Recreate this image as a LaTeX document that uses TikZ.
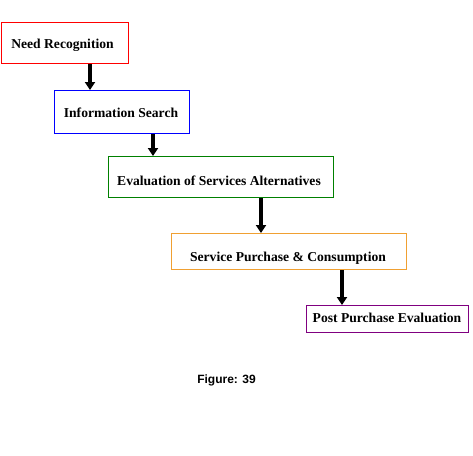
\documentclass[tikz,border=0pt]{standalone}
\usepackage{fontspec}
\setmainfont{Liberation Serif}
\setsansfont{Liberation Sans}
\usetikzlibrary{arrows.meta}
\definecolor{cgreen}{RGB}{0,128,0}
\definecolor{corange}{RGB}{240,160,50}
\definecolor{cpurple}{RGB}{128,0,128}
\begin{document}
\begin{tikzpicture}[x=1pt,y=-1pt,
  box/.style={draw,line width=1pt,inner sep=0pt,anchor=north west},
  lbl/.style={font=\bfseries\fontsize{13.6}{15}\selectfont,inner sep=0pt},
  arr/.style={line width=3.2pt,-{Triangle[width=10pt,length=8pt]}}]
\useasboundingbox (0,0) rectangle (473,455);
\node[box,draw=red,minimum width=127pt,minimum height=41pt] (b1) at (0.5,22) {};
\node[box,draw=blue,minimum width=135pt,minimum height=43pt] (b2) at (54,90) {};
\node[box,draw=cgreen,minimum width=225pt,minimum height=41pt] (b3) at (108,156) {};
\node[box,draw=corange,minimum width=235pt,minimum height=36pt] (b4) at (171,233) {};
\node[box,draw=cpurple,minimum width=162pt,minimum height=27pt] (b5) at (306,305) {};
\node[lbl] (t1) at (62.5,45) {Need Recognition};
\node[lbl] (t2) at (121,113) {Information Search};
\node[lbl] (t3) at (219,181) {Evaluation of Services Alternatives};
\node[lbl] (t4) at (288,258) {Service Purchase \& Consumption};
\node[lbl] (t5) at (387,318) {Post Purchase Evaluation};
\node[font=\sffamily\bfseries\fontsize{12}{14}\selectfont,inner sep=0pt] (fig) at (226.5,380) {Figure: 39};
\draw[arr] (b1.south -| 90,0) -- (b2.north -| 90,0);
\draw[arr] (b2.south -| 153,0) -- (b3.north -| 153,0);
\draw[arr] (b3.south -| 261,0) -- (b4.north -| 261,0);
\draw[arr] (b4.south -| 342,0) -- (b5.north -| 342,0);
\end{tikzpicture}
\end{document}
